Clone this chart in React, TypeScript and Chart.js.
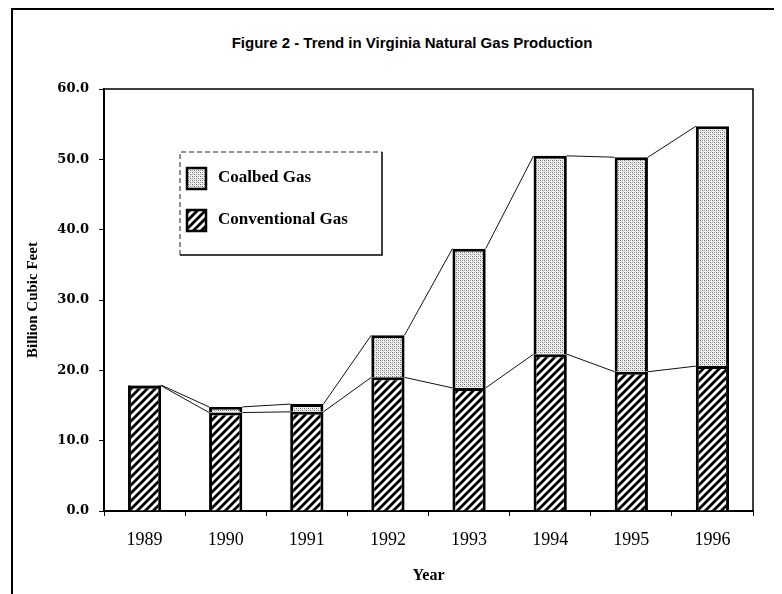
import React, { useEffect, useRef } from "react";
import { Chart, registerables } from "chart.js";

Chart.register(...registerables);

const years = ["1989", "1990", "1991", "1992", "1993", "1994", "1995", "1996"];
const conventionalGas = [17.8, 14.0, 14.1, 19.0, 17.5, 22.3, 19.8, 20.6];
const coalbedGas = [0.1, 0.8, 1.1, 6.0, 19.8, 28.2, 30.5, 34.1];
const yMin = 0;
const yMax = 60;
const yStep = 10;
const titleText = "Figure 2 - Trend in Virginia Natural Gas Production";
const yAxisTitle = "Billion Cubic Feet";
const xAxisTitle = "Year";
const conventionalLabel = "Conventional Gas";
const coalbedLabel = "Coalbed Gas";

function makeHatch(): CanvasPattern | string {
  const s = 8;
  const c = document.createElement("canvas");
  c.width = s;
  c.height = s;
  const g = c.getContext("2d");
  if (!g) return "#444";
  g.fillStyle = "#fff";
  g.fillRect(0, 0, s, s);
  g.strokeStyle = "#000";
  g.lineWidth = 2.8;
  g.beginPath();
  g.moveTo(-2, 2);
  g.lineTo(2, -2);
  g.moveTo(-1, s + 1);
  g.lineTo(s + 1, -1);
  g.moveTo(s - 2, s + 2);
  g.lineTo(s + 2, s - 2);
  g.stroke();
  const p = g.createPattern(c, "repeat");
  return p || "#444";
}

function makeStipple(): CanvasPattern | string {
  const s = 4;
  const c = document.createElement("canvas");
  c.width = s;
  c.height = s;
  const g = c.getContext("2d");
  if (!g) return "#ccc";
  g.fillStyle = "#f4f4f4";
  g.fillRect(0, 0, s, s);
  g.fillStyle = "#666";
  g.fillRect(0, 0, 1, 1);
  g.fillRect(2, 2, 1, 1);
  g.fillStyle = "#a8a8a8";
  g.fillRect(2, 0, 1, 1);
  g.fillRect(0, 2, 1, 1);
  g.fillStyle = "#d0d0d0";
  g.fillRect(1, 1, 1, 1);
  g.fillRect(3, 3, 1, 1);
  const p = g.createPattern(c, "repeat");
  return p || "#ccc";
}

const plotBorderPlugin = {
  id: "plotBorder",
  afterDatasetsDraw(chart: any) {
    const { ctx, chartArea } = chart;
    ctx.save();
    ctx.strokeStyle = "#000";
    ctx.lineWidth = 1.5;
    ctx.beginPath();
    ctx.moveTo(chartArea.left, chartArea.top);
    ctx.lineTo(chartArea.right, chartArea.top);
    ctx.lineTo(chartArea.right, chartArea.bottom);
    ctx.stroke();
    ctx.restore();
  },
};

const seriesLinesPlugin = {
  id: "seriesLines",
  afterDatasetsDraw(chart: any) {
    const { ctx } = chart;
    ctx.save();
    ctx.strokeStyle = "#111";
    ctx.lineWidth = 1;
    chart.data.datasets.forEach((_ds: any, d: number) => {
      const meta = chart.getDatasetMeta(d);
      for (let i = 0; i < meta.data.length - 1; i++) {
        const a = meta.data[i];
        const b = meta.data[i + 1];
        ctx.beginPath();
        ctx.moveTo(a.x + a.width / 2, a.y);
        ctx.lineTo(b.x - b.width / 2, b.y);
        ctx.stroke();
      }
    });
    ctx.restore();
  },
};

const boxLegendPlugin = {
  id: "boxLegend",
  afterDraw(chart: any) {
    const { ctx, chartArea } = chart;
    const x0 = chartArea.left + 76;
    const y0 = chartArea.top + 63;
    const w = 202;
    const h = 103;
    ctx.save();
    ctx.strokeStyle = "#222";
    ctx.lineWidth = 1;
    ctx.setLineDash([5, 3]);
    ctx.beginPath();
    ctx.moveTo(x0, y0 + h);
    ctx.lineTo(x0, y0);
    ctx.lineTo(x0 + w, y0);
    ctx.stroke();
    ctx.setLineDash([]);
    ctx.strokeStyle = "#000";
    ctx.lineWidth = 1.5;
    ctx.beginPath();
    ctx.moveTo(x0 + w, y0);
    ctx.lineTo(x0 + w, y0 + h);
    ctx.lineTo(x0, y0 + h);
    ctx.stroke();
    const items = [chart.data.datasets[1], chart.data.datasets[0]];
    items.forEach((ds: any, k: number) => {
      const cy = y0 + 26 + k * 42;
      ctx.fillStyle = ds.backgroundColor;
      ctx.fillRect(x0 + 7, cy - 10, 19, 21);
      ctx.lineWidth = 2.5;
      ctx.strokeStyle = "#000";
      ctx.strokeRect(x0 + 7, cy - 10, 19, 21);
      ctx.fillStyle = "#000";
      ctx.font = 'bold 17px "Liberation Serif"';
      ctx.textBaseline = "middle";
      ctx.textAlign = "left";
      ctx.fillText(ds.label, x0 + 38, cy);
    });
    ctx.restore();
  },
};

export default function App() {
  const ref = useRef<HTMLCanvasElement | null>(null);

  useEffect(() => {
    const canvas = ref.current;
    if (!canvas) return;
    const hatch = makeHatch();
    const stipple = makeStipple();
    const chart = new Chart(canvas, {
      type: "bar",
      data: {
        labels: years,
        datasets: [
          {
            label: conventionalLabel,
            data: conventionalGas,
            backgroundColor: hatch as any,
            borderColor: "#000",
            borderWidth: 3,
            categoryPercentage: 1,
            barPercentage: 0.41,
          },
          {
            label: coalbedLabel,
            data: coalbedGas,
            backgroundColor: stipple as any,
            borderColor: "#000",
            borderWidth: 3,
            categoryPercentage: 1,
            barPercentage: 0.41,
          },
        ],
      },
      options: {
        responsive: false,
        animation: false,
        devicePixelRatio: 1,
        layout: { padding: { left: 0, right: 29, top: 81, bottom: 0 } },
        plugins: {
          legend: { display: false },
          tooltip: { enabled: false },
          title: { display: false },
        },
        scales: {
          x: {
            stacked: true,
            border: { display: true, color: "#000", width: 2 },
            grid: {
              display: true,
              drawOnChartArea: false,
              drawTicks: true,
              tickLength: 5,
              color: "#000",
              lineWidth: 1,
              offset: true,
            },
            ticks: {
              color: "#000",
              padding: 13,
              maxRotation: 0,
              font: { family: '"Liberation Serif"', size: 18, weight: "normal" },
            },
            title: {
              display: true,
              text: xAxisTitle,
              color: "#000",
              padding: { top: 0, bottom: 9 },
              font: { family: '"Liberation Serif"', size: 16, weight: "bold" },
            },
            afterFit(scale: any) {
              scale.height = 83;
            },
          },
          y: {
            stacked: true,
            min: yMin,
            max: yMax,
            border: { display: true, color: "#000", width: 2 },
            grid: {
              display: true,
              drawOnChartArea: false,
              drawTicks: true,
              tickLength: 5,
              color: "#000",
              lineWidth: 1,
            },
            ticks: {
              stepSize: yStep,
              color: "#000",
              padding: 10,
              font: { family: '"DejaVu Serif"', size: 13, weight: "bold" },
              callback: (v: any) => Number(v).toFixed(1),
            },
            title: {
              display: true,
              text: yAxisTitle,
              color: "#000",
              padding: { top: 16, bottom: 0 },
              font: { family: '"Liberation Serif"', size: 15, weight: "bold" },
            },
            afterFit(scale: any) {
              scale.width = 96;
            },
          },
        },
      },
      plugins: [plotBorderPlugin, seriesLinesPlugin, boxLegendPlugin],
    });
    return () => chart.destroy();
  }, []);

  return (
    <div
      style={{
        position: "relative",
        width: 774,
        height: 600,
        overflow: "hidden",
        background: "#fff",
      }}
    >
      <div
        style={{
          position: "absolute",
          left: 3,
          top: 0,
          width: 768,
          height: 640,
          boxSizing: "border-box",
          border: "2px solid #000",
        }}
      />
      <div
        style={{
          position: "absolute",
          left: 154,
          top: 26,
          width: 500,
          textAlign: "center",
          lineHeight: "16px",
          font: 'bold 15px "Liberation Sans", Arial, sans-serif',
          color: "#000",
        }}
      >
        {titleText}
      </div>
      <canvas
        ref={ref}
        width={774}
        height={586}
        style={{ position: "absolute", left: 0, top: 0, display: "block" }}
      />
    </div>
  );
}
